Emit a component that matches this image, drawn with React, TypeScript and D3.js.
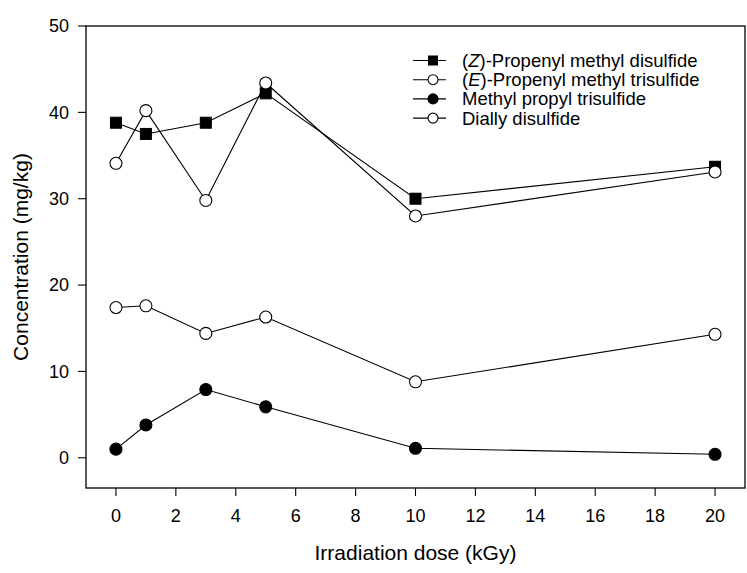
import * as d3 from "d3";

const doses = [0, 1, 3, 5, 10, 20];
const zPropenylDi = [38.8, 37.5, 38.8, 42.2, 30.0, 33.7];
const ePropenylTri = [34.1, 40.2, 29.8, 43.4, 28.0, 33.1];
const methylPropylTri = [1.0, 3.8, 7.9, 5.9, 1.1, 0.4];
const diallyDi = [17.4, 17.6, 14.4, 16.3, 8.8, 14.3];
const xTicks = [0, 2, 4, 6, 8, 10, 12, 14, 16, 18, 20];
const yTicks = [0, 10, 20, 30, 40, 50];

type Series = { pre?: string; ital?: string; name: string; values: number[]; shape: "square" | "circle"; fill: string };

const series: Series[] = [
  { pre: "(", ital: "Z", name: ")-Propenyl methyl disulfide", values: zPropenylDi, shape: "square", fill: "#000" },
  { pre: "(", ital: "E", name: ")-Propenyl methyl trisulfide", values: ePropenylTri, shape: "circle", fill: "#fff" },
  { name: "Methyl propyl trisulfide", values: methylPropylTri, shape: "circle", fill: "#000" },
  { name: "Dially disulfide", values: diallyDi, shape: "circle", fill: "#fff" },
];

const W = 747;
const H = 573;
const margin = { left: 86, top: 26, right: 1, bottom: 85 };
const font = "Arial, 'Liberation Sans', sans-serif";

function Marker({ x, y, s }: { x: number; y: number; s: Series }) {
  if (s.shape === "square")
    return <rect x={x - 5.5} y={y - 5.5} width={11} height={11} fill={s.fill} stroke="#000" strokeWidth={1} />;
  return <circle cx={x} cy={y} r={6} fill={s.fill} stroke="#000" strokeWidth={1.1} />;
}

export default function App() {
  const x = d3.scaleLinear().domain([-1, 21]).range([margin.left, W - margin.right - 1]);
  const y = d3.scaleLinear().domain([-3.5, 50]).range([H - margin.bottom, margin.top]);
  const line = d3
    .line<number>()
    .x((_, i) => x(doses[i]))
    .y((d) => y(d));

  const x0 = margin.left;
  const x1 = W - margin.right - 1;
  const y0 = margin.top;
  const y1 = H - margin.bottom;

  return (
    <svg width={W} height={H} style={{ position: "absolute", left: 0, top: 0, fontFamily: font }}>
      <rect x={0} y={0} width={W} height={H} fill="#fff" />
      {series.map((s, k) => (
        <g key={k}>
          <path d={line(s.values) ?? ""} fill="none" stroke="#000" strokeWidth={1.1} />
          {s.values.map((v, i) => (
            <Marker key={i} x={x(doses[i])} y={y(v)} s={s} />
          ))}
        </g>
      ))}
      <rect x={x0} y={y0} width={x1 - x0} height={y1 - y0} fill="none" stroke="#000" strokeWidth={1.3} />
      {/* y axis */}
      {yTicks.map((t) => (
        <g key={t}>
          <line x1={x0 - 8} x2={x0} y1={y(t)} y2={y(t)} stroke="#000" strokeWidth={1.1} />
          <text x={x0 - 17} y={y(t)} dy="0.35em" textAnchor="end" fontSize={18}>
            {t}
          </text>
        </g>
      ))}
      {/* x axis */}
      {xTicks.map((t) => (
        <g key={t}>
          <line x1={x(t)} x2={x(t)} y1={y1} y2={y1 + 8} stroke="#000" strokeWidth={1.1} />
          <text x={x(t)} y={y1 + 33.5} textAnchor="middle" fontSize={18}>
            {t}
          </text>
        </g>
      ))}
      <text x={(x0 + x1) / 2} y={560} textAnchor="middle" fontSize={21}>
        Irradiation dose (kGy)
      </text>
      <text transform={`translate(28,${(y0 + y1) / 2}) rotate(-90)`} textAnchor="middle" fontSize={21}>
        Concentration (mg/kg)
      </text>
      {/* legend */}
      {series.map((s, k) => {
        const ly = 60.5 + k * 19.2;
        return (
          <g key={k}>
            <line x1={413} x2={446} y1={ly} y2={ly} stroke="#000" strokeWidth={1.1} />
            {s.shape === "square" ? (
              <rect x={433 - 4.5} y={ly - 4.5} width={9} height={9} fill={s.fill} stroke="#000" />
            ) : (
              <circle cx={433} cy={ly} r={5} fill={s.fill} stroke="#000" strokeWidth={1.1} />
            )}
            <text x={462} y={ly} dy="0.35em" fontSize={18.5}>
              {s.pre}
              {s.ital && <tspan fontStyle="italic">{s.ital}</tspan>}
              {s.name}
            </text>
          </g>
        );
      })}
    </svg>
  );
}
